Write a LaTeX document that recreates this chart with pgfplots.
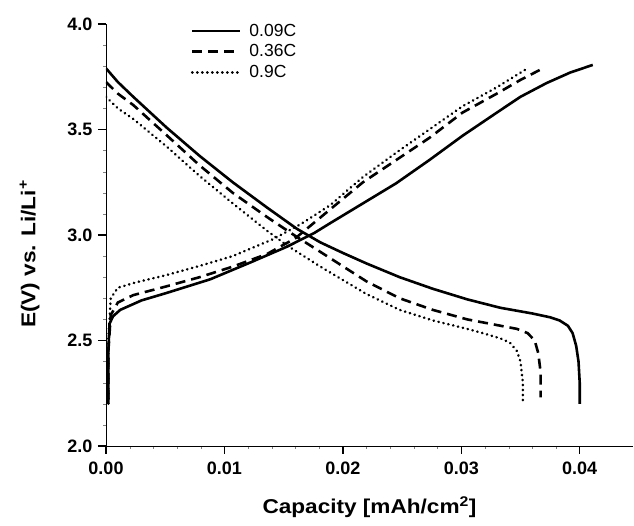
\documentclass[border=0pt]{standalone}
\usepackage{fontspec}
\setmainfont{Liberation Sans}
\newfontfamily\labelfont{Liberation Sans}[FakeStretch=1.13]
\newcommand{\lf}{\fontsize{17.5}{20}\selectfont}
\usepackage{pgfplots}
\pgfplotsset{compat=1.18}
\begin{document}
\begin{tikzpicture}
\path[use as bounding box] (-106pt,-80pt) rectangle (528pt,446pt);
\begin{axis}[
  at={(0,0)}, anchor=south west,
  scale only axis, width=527pt, height=422pt,
  xmin=0, xmax=0.0445, ymin=2.0, ymax=4.0,
  axis x line*=bottom, axis y line*=left,
  tick align=outside,
  major tick length=8pt,
  every major tick/.style={draw=black, line width=1.3pt},
  xtick={0,0.01,0.02,0.03,0.04},
  ytick={2.0,2.5,3.0,3.5,4.0},
  minor x tick num=4, minor y tick num=4,
  scaled x ticks=false,
  xticklabel style={/pgf/number format/fixed, /pgf/number format/fixed zerofill, /pgf/number format/precision=2, /pgf/number format/assume math mode=true, yshift=-4pt},
  yticklabel style={/pgf/number format/fixed, /pgf/number format/fixed zerofill, /pgf/number format/precision=1, /pgf/number format/assume math mode=true, xshift=-2pt},
  ticklabel style={font=\bfseries\fontsize{18}{18}\selectfont},
  label style={font=\labelfont\bfseries\fontsize{20}{20}\selectfont},
  xlabel={Capacity [mAh/cm\textsuperscript{2}]},
  ylabel={E(V) vs. Li/Li\textsuperscript{+}},
  xlabel style={at={(axis description cs:0.5,-0.145)}, anchor=center},
  ylabel style={at={(axis description cs:-0.145,0.455)}, anchor=center},
  legend style={at={(0.155,1.01)}, anchor=north west, draw=none, fill=none, row sep=3pt},
  legend image code/.code={\draw[#1] (0pt,0pt) -- (48pt,0pt); \path (54pt,0pt);},
  legend cell align=left,
]
% charge 0.09C
\addplot[black, line width=2.6pt, line join=round] coordinates {
(0.0002,2.20)(0.0002,2.45)(0.0003,2.58)(0.0006,2.615)(0.0012,2.645)(0.0030,2.69)(0.0051,2.725)(0.0088,2.79)(0.0122,2.87)(0.0153,2.945)(0.0176,3.01)(0.0189,3.055)(0.0217,3.15)(0.0245,3.245)(0.0273,3.355)(0.0301,3.47)(0.0330,3.58)(0.0350,3.655)(0.0372,3.72)(0.0392,3.77)(0.0411,3.806)};
\addlegendentry{\lf 0.09C}
% charge 0.36C
\addplot[black, line width=2.6pt, dash pattern=on 10pt off 6pt] coordinates {
(0.0002,2.22)(0.0002,2.45)(0.0004,2.62)(0.0010,2.68)(0.0023,2.715)(0.0050,2.755)(0.0079,2.80)(0.0107,2.85)(0.0136,2.91)(0.0160,2.985)(0.0189,3.12)(0.0217,3.25)(0.0245,3.355)(0.0273,3.46)(0.0301,3.58)(0.0330,3.67)(0.0350,3.735)(0.0369,3.79)};
\addlegendentry{\lf 0.36C}
% charge 0.9C
\addplot[black, line width=2.6pt, line cap=round, dash pattern=on 0.3pt off 4.7pt] coordinates {
(0.0002,2.20)(0.0002,2.50)(0.0004,2.70)(0.0010,2.75)(0.0025,2.775)(0.0051,2.81)(0.0080,2.855)(0.0107,2.90)(0.0141,2.98)(0.0164,3.05)(0.0189,3.14)(0.0217,3.275)(0.0245,3.39)(0.0273,3.50)(0.0301,3.61)(0.0330,3.70)(0.0356,3.79)};
\addlegendentry{\lf 0.9C}
% discharge 0.09C
\addplot[black, line width=2.6pt, line join=round] coordinates {
(0,3.79)(0.0010,3.725)(0.0023,3.655)(0.0051,3.51)(0.0079,3.375)(0.0107,3.25)(0.0136,3.13)(0.0161,3.03)(0.0181,2.965)(0.0200,2.915)(0.0220,2.865)(0.0248,2.80)(0.0276,2.745)(0.0305,2.695)(0.0333,2.655)(0.0360,2.628)(0.0375,2.61)(0.0383,2.595)(0.0390,2.57)(0.0394,2.535)(0.0397,2.475)(0.0399,2.40)(0.0400,2.30)(0.0400,2.20)};
% discharge 0.36C
\addplot[black, line width=2.6pt, dash pattern=on 10pt off 6pt] coordinates {
(0,3.725)(0.0010,3.67)(0.0023,3.616)(0.0051,3.474)(0.0079,3.33)(0.0107,3.20)(0.0136,3.085)(0.0160,2.995)(0.0181,2.92)(0.0220,2.78)(0.0248,2.70)(0.0276,2.645)(0.0305,2.60)(0.0333,2.57)(0.0347,2.555)(0.0356,2.535)(0.0362,2.50)(0.0365,2.44)(0.0367,2.35)(0.0367,2.23)};
% discharge 0.9C
\addplot[black, line width=2.6pt, line cap=round, dash pattern=on 0.3pt off 4.7pt] coordinates {
(0,3.655)(0.0010,3.60)(0.0023,3.55)(0.0051,3.42)(0.0079,3.28)(0.0107,3.15)(0.0136,3.02)(0.0153,2.95)(0.0181,2.85)(0.0220,2.72)(0.0248,2.645)(0.0276,2.595)(0.0305,2.555)(0.0318,2.535)(0.0333,2.51)(0.0341,2.49)(0.0347,2.45)(0.0350,2.40)(0.0352,2.30)(0.0352,2.20)};
\end{axis}
\end{tikzpicture}
\end{document}
